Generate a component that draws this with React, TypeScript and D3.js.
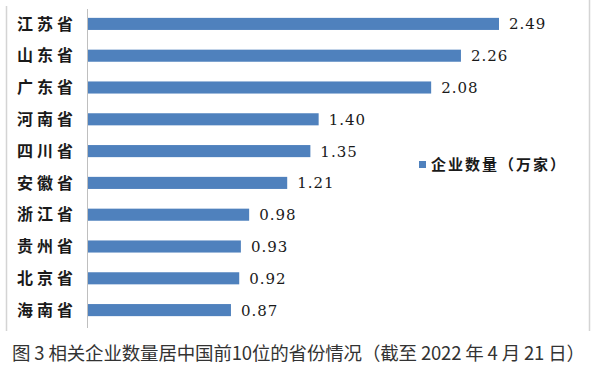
import React, { useEffect, useRef } from "react";
import * as d3 from "d3";

const provinces = ["江苏省", "山东省", "广东省", "河南省", "四川省", "安徽省", "浙江省", "贵州省", "北京省", "海南省"];
const counts = [2.49, 2.26, 2.08, 1.4, 1.35, 1.21, 0.98, 0.93, 0.92, 0.87];
const legendLabel = "企业数量（万家）";
const caption = "图 3 相关企业数量居中国前10位的省份情况（截至 2022 年 4 月 21 日）";

const W = 595;
const H = 366;

export default function App() {
  const svgRef = useRef<SVGSVGElement>(null);

  useEffect(() => {
    if (!svgRef.current) return;
    const svg = d3.select(svgRef.current);
    svg.selectAll("*").remove();

    const axisX = 87;
    const barColor = "#4f81bd";

    // frame lines left / right
    svg.append("line")
      .attr("x1", 6.5).attr("x2", 6.5).attr("y1", 6).attr("y2", 331)
      .attr("stroke", "#d4d4d4").attr("stroke-width", 1.5);
    svg.append("line")
      .attr("x1", 589.5).attr("x2", 589.5).attr("y1", 0).attr("y2", 331)
      .attr("stroke", "#d4d4d4").attr("stroke-width", 1.5);

    const y = d3.scaleBand<string>()
      .domain(provinces)
      .range([8, 326])
      .paddingInner(0.62)
      .paddingOuter(0.31);

    // 1 unit ~ 165.5px
    const x = d3.scaleLinear().domain([0, 2.49]).range([axisX, 499]);

    const rows = provinces.map((p, i) => ({ p, v: counts[i] }));

    svg.append("g")
      .selectAll("rect")
      .data(rows)
      .enter()
      .append("rect")
      .attr("x", x(0))
      .attr("y", (d) => y(d.p)!)
      .attr("width", (d) => x(d.v) - x(0))
      .attr("height", y.bandwidth())
      .attr("fill", barColor);

    // axis line
    svg.append("line")
      .attr("x1", axisX + 0.5).attr("x2", axisX + 0.5).attr("y1", 9).attr("y2", 328)
      .attr("stroke", "#bfbfbf").attr("stroke-width", 1);

    // category labels
    svg.append("g")
      .selectAll("text")
      .data(rows)
      .enter()
      .append("text")
      .attr("x", 17)
      .attr("y", (d) => y(d.p)! + y.bandwidth() / 2)
      .attr("dy", "0.36em")
      .attr("font-family", "Noto Sans CJK SC, sans-serif")
      .attr("font-size", 16)
      .attr("font-weight", 600)
      .attr("letter-spacing", 4)
      .attr("fill", "#1a1a1a")
      .text((d) => d.p);

    // value labels
    const fmt = d3.format(".2f");
    svg.append("g")
      .selectAll("text")
      .data(rows)
      .enter()
      .append("text")
      .attr("x", (d) => x(d.v) + 10)
      .attr("y", (d) => y(d.p)! + y.bandwidth() / 2)
      .attr("dy", "0.36em")
      .attr("font-family", "DejaVu Serif, serif")
      .attr("font-size", 15)
      .attr("letter-spacing", 1)
      .attr("fill", "#1a1a1a")
      .text((d) => fmt(d.v));

    // legend
    const lg = svg.append("g").attr("transform", "translate(419,161)");
    lg.append("rect").attr("width", 7).attr("height", 7).attr("fill", barColor);
    lg.append("text")
      .attr("x", 12)
      .attr("y", 4)
      .attr("dy", "0.36em")
      .attr("font-family", "Noto Sans CJK SC, sans-serif")
      .attr("font-size", 15)
      .attr("font-weight", 600)
      .attr("letter-spacing", 2)
      .attr("fill", "#1a1a1a")
      .text(legendLabel);

    // caption
    svg.append("text")
      .attr("x", 12)
      .attr("y", 360)
      .attr("textLength", 573)
      .attr("lengthAdjust", "spacing")
      .attr("font-family", "Noto Sans CJK SC, sans-serif")
      .attr("font-size", 18.5)
      .attr("fill", "#333")
      .text(caption);
  }, []);

  return (
    <svg
      ref={svgRef}
      width={W}
      height={H}
      style={{ position: "absolute", left: 0, top: 0, background: "#fff", display: "block" }}
    />
  );
}
